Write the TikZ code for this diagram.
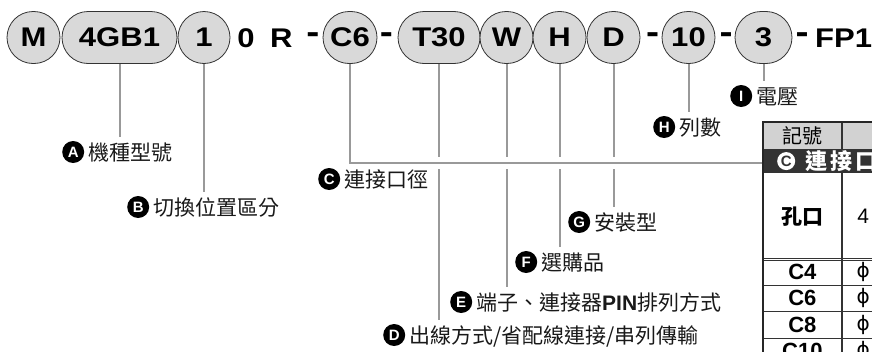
\documentclass[tikz,border=0pt]{standalone}
\usepackage{fontspec}
\setmainfont{Liberation Sans}
\newfontfamily\cjk{Noto Sans CJK TC}
\newfontfamily\codefont{Liberation Sans}[FakeStretch=1.15]
\newfontfamily\phifont{DejaVu Sans}
\usetikzlibrary{backgrounds}
\tikzset{badgebox/.style={circle, fill=black, text=white, inner sep=0pt, minimum size=22pt,
    font=\rmfamily\bfseries\fontsize{15}{15}\selectfont}}
\newcommand{\badge}[2][]{\tikz[baseline={([yshift=-8pt]bdg.center)}]\node[badgebox,#1](bdg){#2};\hspace{4pt}}

\begin{document}
\begin{tikzpicture}[x=1pt,y=-1pt,
  pill/.style={draw=black!80, line width=0.8pt, fill=gray!30, rounded corners=26pt,
    minimum height=52pt, inner sep=0pt, font=\codefont\bfseries\fontsize{27}{27}\selectfont},
  code/.style={inner sep=0pt, font=\codefont\bfseries\fontsize{27}{27}\selectfont},
  hyph/.style={inner sep=0pt, font=\codefont\bfseries\fontsize{34}{34}\selectfont},
  conn/.style={draw=black!40, line width=2pt},
  lbl/.style={anchor=west, inner sep=0pt, text height=15pt, text depth=5pt, text=black!90,
    font=\cjk\fontsize{21}{21}\selectfont},
  cell/.style={draw=black!80, line width=0.8pt, anchor=north west, inner sep=0pt,
    minimum width=78pt, minimum height=26.5pt, font=\bfseries\fontsize{22}{22}\selectfont}]
  \useasboundingbox (0,0) rectangle (872,351);
  \clip (0,0) rectangle (872,351);

  % model code
  \node[pill, minimum width=53pt] (m) at (33.5,37.5) {M};
  \node[pill, minimum width=115pt] (gb) at (119.5,37.5) {4GB1};
  \node[pill, minimum width=52pt] (sw) at (204,37.5) {1};
  \node[code] (zr) at (265,38) {0\hspace{7pt} R};
  \node[hyph] (d1) at (313,38) {-};
  \node[pill, minimum width=54pt] (c6) at (350,37.5) {C6};
  \node[hyph] (d2) at (386.5,38) {-};
  \node[pill, minimum width=82pt] (t30) at (439,37.5) {T30};
  \node[pill, minimum width=53pt] (w) at (506.5,37.5) {W};
  \node[pill, minimum width=53pt] (h) at (559.5,37.5) {H};
  \node[pill, minimum width=53pt] (d) at (613.5,37.5) {D};
  \node[hyph] (d3) at (652.5,38) {-};
  \node[pill, minimum width=53pt] (ten) at (688.5,37.5) {10};
  \node[hyph] (d4) at (726,38) {-};
  \node[pill, minimum width=57pt] (v) at (763.5,37.5) {3};
  \node[hyph] (d5) at (802,38) {-};
  \node[code, anchor=west] (fp) at (815,38) {FP1};

  % labels
  \node[lbl] (la) at (62,155) {\badge{A}機種型號};
  \node[lbl] (lb) at (127,210) {\badge{B}切換位置區分};
  \node[lbl] (lc) at (318,182) {\badge{C}連接口徑};
  \node[lbl] (ld) at (383,338) {\badge{D}出線方式/省配線連接/串列傳輸};
  \node[lbl] (le) at (450,305) {\badge{E}端子、連接器{\rmfamily\bfseries PIN}排列方式};
  \node[lbl] (lf) at (515,265) {\badge{F}選購品};
  \node[lbl] (lg) at (568,225) {\badge{G}安裝型};
  \node[lbl] (lh) at (653,130) {\badge{H}列數};
  \node[lbl] (li) at (730,99) {\badge{I}電壓};

  % table
  \node[cell, fill=gray!35, font=\cjk\fontsize{20}{20}\selectfont] (hd1) at (763,122) {記號};
  \node[cell, fill=gray!35, minimum width=42pt] (hd2) at (hd1.north east) {};
  \node[cell, fill=black!80, minimum width=120pt, minimum height=22pt] (band) at (hd1.south west) {};
  \node[anchor=west, inner sep=0pt, text=white, font=\cjk\bfseries\fontsize{22}{22}\selectfont]
    (bandtxt) at ([xshift=14pt]band.west)
    {\badge[fill=white, text=black!80, minimum size=18pt]{C}\hspace{6pt}連\hspace{3pt}接\hspace{3pt}口\hspace{3pt}徑};
  \node[cell, minimum height=88pt, font=\cjk\bfseries\fontsize{21}{21}\selectfont] (hole1) at (band.south west) {孔口};
  \node[cell, minimum width=42pt, minimum height=88pt, font=\fontsize{21}{21}\selectfont] (hole2) at (hole1.north east) {4};
  \foreach \lab [count=\i from 0] in {C4,C6,C8,C10} {
    \node[cell] (r\i a) at (763,{258+26.5*\i}) {\lab};
    \node[cell, minimum width=42pt, font=\phifont\fontsize{20}{20}\selectfont] (r\i b) at (r\i a.north east) {ϕ};
  }
  \draw[black!85, line width=2pt] (r3a.south west) -- (hd1.north west) -- (hd2.north east);
  \coordinate (cin) at (hd1.west |- 0,163);

  % connectors
  \begin{scope}[on background layer]
    \foreach \a/\b in {gb/la, sw/lb, t30/ld, w/le, h/lf, d/lg, ten/lh, v/li}
      \draw[conn, shorten >=8pt] (\a.south) -- (\a.south |- \b.north);
    \draw[conn, preaction={draw=white, line width=12pt}] (c6.south) |- (cin);
  \end{scope}
\end{tikzpicture}
\end{document}
